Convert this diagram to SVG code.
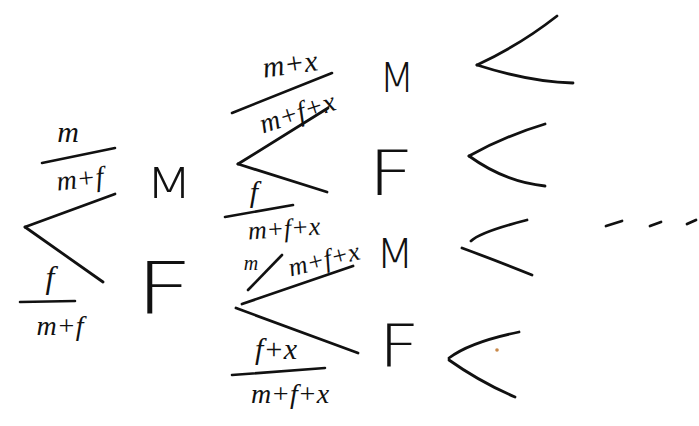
<svg xmlns="http://www.w3.org/2000/svg" width="699" height="426" viewBox="0 0 699 426">
<style>
.br{fill:none;stroke:#111;stroke-width:2.8;stroke-linecap:round}
.bar{fill:none;stroke:#111;stroke-width:2.6;stroke-linecap:round}
.lab{font-family:"DejaVu Sans","Liberation Sans",sans-serif;font-weight:200;fill:#111;text-anchor:middle}
.fr{font-family:"Liberation Serif","Times New Roman",serif;font-style:italic;fill:#111;text-anchor:middle}
</style>
<rect width="699" height="426" fill="#fff"/>
<g id="connectors">
<path class="br" d="M25,227 L115,194"/>
<path class="br" d="M25,227 L103,282"/>
<path class="br" d="M238,164 L328,108"/>
<path class="br" d="M238,164 L327,192"/>
<path class="br" d="M242,304 L353,266"/>
<path class="br" d="M236,308 L358,353"/>
<path class="br" d="M477,65 Q520,45 557,16"/>
<path class="br" d="M477,65 Q530,82 573,83"/>
<path class="br" d="M469,156 Q505,136 545,124"/>
<path class="br" d="M469,156 Q505,182 545,186"/>
<path class="br" d="M471,241 Q480,232 527,220"/>
<path class="br" d="M462,248 Q500,262 532,275"/>
<path class="br" d="M449,358 Q470,342 519,332"/>
<path class="br" d="M449,360 Q480,382 515,397"/>
<path class="br" d="M606,226 L622,221"/>
<path class="br" d="M650,226 L661,222"/>
<path class="br" d="M687,224 L696,220"/>
</g>
<g id="p1">
<text class="fr" x="68" y="142" font-size="30">m</text>
<path class="bar" d="M42,163 L115,148"/>
<text class="fr" x="80" y="188" font-size="28" transform="rotate(-6 80 180)">m+f</text>
</g>
<g id="p2">
<text class="fr" x="50" y="288" font-size="32">f</text>
<path class="bar" d="M20,302 L75,301"/>
<text class="fr" x="60" y="335" font-size="28">m+f</text>
</g>
<g id="M1"><text class="lab" x="0" y="0" font-size="43" transform="translate(169 198) scale(1.27 1)">M</text></g>
<g id="F1"><text class="lab" x="0" y="0" font-size="72" transform="translate(164 313) scale(1.4 1)">F</text></g>
<g id="p3">
<text class="fr" x="290" y="74" font-size="30" transform="rotate(-8 290 64)">m+x</text>
<path class="bar" d="M232,113 L332,73"/>
<text class="fr" x="297" y="122" font-size="28" transform="rotate(-18 297 112)">m+f+x</text>
</g>
<g id="p4">
<text class="fr" x="254" y="202" font-size="30">f</text>
<path class="bar" d="M225,217 L293,205"/>
<text class="fr" x="284" y="237" font-size="26" transform="rotate(-4 284 228)">m+f+x</text>
</g>
<g id="M2"><text class="lab" x="0" y="0" font-size="41" transform="translate(397 92)">M</text></g>
<g id="F2"><text class="lab" x="0" y="0" font-size="62" transform="translate(391 195) scale(1.3 1)">F</text></g>
<g id="p5">
<text class="fr" x="251" y="270" font-size="20">m</text>
<path class="bar" d="M248,290 L282,255"/>
<text class="fr" x="324" y="268" font-size="26" transform="rotate(-14 324 260)">m+f+x</text>
</g>
<g id="p6">
<text class="fr" x="276" y="359" font-size="30">f+x</text>
<path class="bar" d="M232,375 L325,368"/>
<text class="fr" x="290" y="403" font-size="28">m+f+x</text>
</g>
<g id="M3"><text class="lab" x="0" y="0" font-size="40" transform="translate(395 268) scale(1.1 1)">M</text></g>
<g id="F3"><text class="lab" x="0" y="0" font-size="58" transform="translate(399 367) scale(1.23 1)">F</text></g>
<circle cx="497" cy="350" r="1.8" fill="#c9894a"/>
</svg>
